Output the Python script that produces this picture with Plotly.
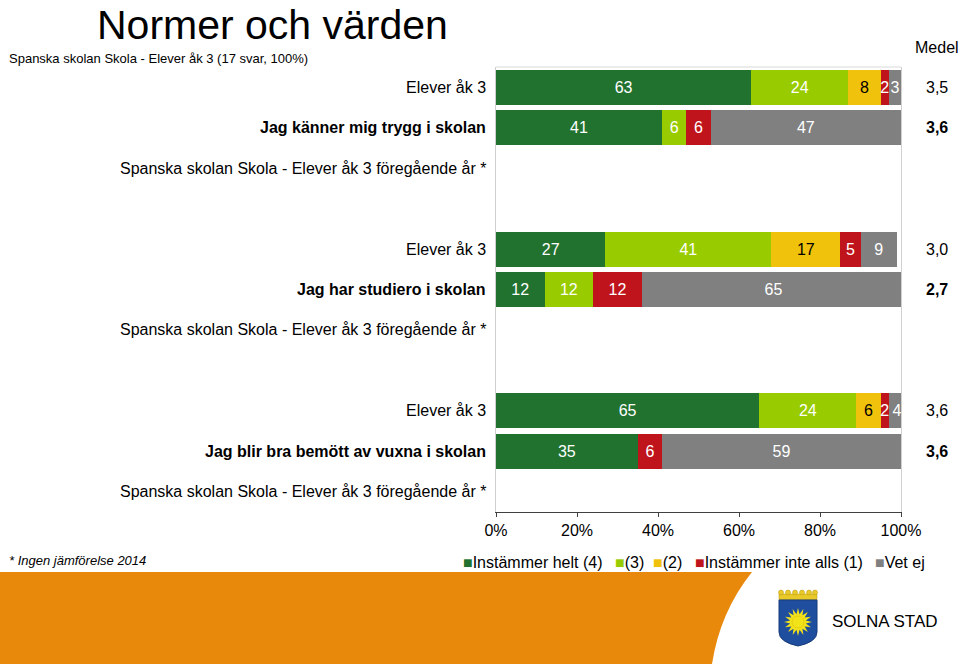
import math
import plotly.graph_objects as go

# ---- data ----
row_labels = [
    "Elever åk 3",
    "Jag känner mig trygg i skolan",
    "Spanska skolan Skola - Elever åk 3 föregående år *",
    "",
    "Elever åk 3",
    "Jag har studiero i skolan",
    "Spanska skolan Skola - Elever åk 3 föregående år *",
    "",
    "Elever åk 3",
    "Jag blir bra bemött av vuxna i skolan",
    "Spanska skolan Skola - Elever åk 3 föregående år *",
]
bold_rows = [1, 5, 9]
series_names = ["Instämmer helt (4)", "(3)", "(2)", "Instämmer inte alls (1)", "Vet ej"]
helt = [63, 41, None, None, 27, 12, None, None, 65, 35, None]
tre = [24, 6, None, None, 41, 12, None, None, 24, 0, None]
tva = [8, 0, None, None, 17, 0, None, None, 6, 0, None]
inte_alls = [2, 6, None, None, 5, 12, None, None, 2, 6, None]
vet_ej = [3, 47, None, None, 9, 65, None, None, 4, 59, None]
medel = ["3,5", "3,6", "", "", "3,0", "2,7", "", "", "3,6", "3,6", ""]
x_ticks = [0, 20, 40, 60, 80, 100]
x_ticktext = ["0%", "20%", "40%", "60%", "80%", "100%"]

colors = ["#22722F", "#99CC00", "#F0C20C", "#C0141C", "#808080"]
text_colors = ["white", "white", "black", "white", "white"]

W, H = 959, 664
L, R, T, B = 496, 901, 67, 512
FONT = "Liberation Sans, Arial, sans-serif"


def X(px):
    return (px - L) / (R - L)


def Y(py):
    return (B - py) / (B - T)


ypos = list(range(len(row_labels)))
fig = go.Figure()
for name, vals, col, tcol in zip(series_names, [helt, tre, tva, inte_alls, vet_ej], colors, text_colors):
    fig.add_trace(go.Bar(
        y=ypos, x=vals, name=name, orientation="h",
        marker=dict(color=col, line=dict(width=0)),
        text=["" if (v is None or v == 0) else str(v) for v in vals],
        textposition="inside", insidetextanchor="middle", constraintext="none",
        textfont=dict(color=tcol, size=16, family=FONT),
        showlegend=False, hoverinfo="skip",
    ))

fig.update_layout(
    width=W, height=H, barmode="stack", bargap=0.135,
    margin=dict(l=L, r=W - R, t=T, b=H - B, pad=0),
    paper_bgcolor="white", plot_bgcolor="white",
    font=dict(family=FONT, color="black", size=16),
    xaxis=dict(range=[0, 100], tickvals=x_ticks, ticktext=x_ticktext, showgrid=False,
               zeroline=False, showline=True, linecolor="#404040", linewidth=1,
               ticks="outside", ticklen=4, tickcolor="#404040", tickfont=dict(size=16)),
    yaxis=dict(range=[10.5, -0.5], showticklabels=False, showgrid=False, zeroline=False,
               showline=True, linecolor="#d0d0d0", mirror=True, ticks=""),
)

shapes = []
# top border of plot area
shapes.append(dict(type="line", xref="paper", yref="paper", x0=0, x1=1, y0=1, y1=1,
                   line=dict(color="#d9d9d9", width=1)))

# orange footer band
p = "M {},{} L {},{} Q {},{} {},{} L {},{} Z".format(
    X(0), Y(572), X(752), Y(572), X(720), Y(612), X(712), Y(664), X(0), Y(664))
shapes.append(dict(type="path", xref="paper", yref="paper", path=p,
                   fillcolor="#E8890C", line=dict(width=0), layer="above"))

# logo: crown
shapes.append(dict(type="rect", xref="paper", yref="paper", x0=X(779), x1=X(817), y0=Y(600), y1=Y(594),
                   fillcolor="#E9C829", line=dict(color="#B59A10", width=0.5)))
for cx in [781, 788, 795, 802, 809, 815]:
    shapes.append(dict(type="circle", xref="paper", yref="paper", x0=X(cx - 2.5), x1=X(cx + 2.5),
                       y0=Y(595), y1=Y(590), fillcolor="#E9C829", line=dict(color="#B59A10", width=0.5)))
# shield
sp = "M {},{} L {},{} L {},{} Q {},{} {},{} Q {},{} {},{} Z".format(
    X(779), Y(600), X(817), Y(600), X(817), Y(632), X(817), Y(642), X(798), Y(646), X(779), Y(642), X(779), Y(632))
shapes.append(dict(type="path", xref="paper", yref="paper", path=sp,
                   fillcolor="#1F4E9E", line=dict(color="#163a78", width=1)))
# sun
pts = []
for k in range(32):
    ang = math.pi * 2 * k / 32
    rr = 14 if k % 2 == 0 else 8
    pts.append((798 + rr * math.cos(ang), 622 + rr * math.sin(ang)))
sunp = "M " + " L ".join("{},{}".format(X(a), Y(b)) for a, b in pts) + " Z"
shapes.append(dict(type="path", xref="paper", yref="paper", path=sunp,
                   fillcolor="#F2E21A", line=dict(width=0)))
shapes.append(dict(type="circle", xref="paper", yref="paper", x0=X(792), x1=X(804), y0=Y(628), y1=Y(616),
                   fillcolor="#F2E21A", line=dict(color="#D8B80A", width=0.5)))

annotations = []
# title & subtitle
annotations.append(dict(text="Normer och värden", xref="paper", yref="paper", x=X(95), y=Y(0),
                        xanchor="left", yanchor="top", showarrow=False, font=dict(size=41, family=FONT)))
annotations.append(dict(text="Spanska skolan Skola - Elever åk 3 (17 svar, 100%)", xref="paper", yref="paper",
                        x=X(7), y=Y(59), xanchor="left", yanchor="middle", showarrow=False,
                        font=dict(size=13, family=FONT)))
annotations.append(dict(text="Medel", xref="paper", yref="paper", x=X(937), y=Y(48),
                        xanchor="center", yanchor="middle", showarrow=False, font=dict(size=16, family=FONT)))

for i, (lab, m) in enumerate(zip(row_labels, medel)):
    b = i in bold_rows
    if lab:
        annotations.append(dict(text=("<b>%s</b>" % lab) if b else lab, xref="paper", yref="y",
                                x=X(488), y=i, xanchor="right", yanchor="middle", showarrow=False,
                                font=dict(size=16, family=FONT)))
    if m:
        annotations.append(dict(text=("<b>%s</b>" % m) if b else m, xref="paper", yref="y",
                                x=X(937), y=i, xanchor="center", yanchor="middle", showarrow=False,
                                font=dict(size=16, family=FONT)))

# footnote
annotations.append(dict(text="<i>* Ingen jämförelse 2014</i>", xref="paper", yref="paper", x=X(7), y=Y(560),
                        xanchor="left", yanchor="middle", showarrow=False, font=dict(size=13, family=FONT)))

# legend (one text per entry)
legend_x = [461, 613, 651, 693, 873]
for c, n, lx in zip(colors, series_names, legend_x):
    annotations.append(dict(text='<span style="color:%s">■</span>%s' % (c, n), xref="paper", yref="paper",
                            x=X(lx), y=Y(562), xanchor="left", yanchor="middle", showarrow=False,
                            font=dict(size=16, family=FONT)))

# logo text
annotations.append(dict(text="SOLNA STAD", xref="paper", yref="paper", x=X(830), y=Y(621),
                        xanchor="left", yanchor="middle", showarrow=False, font=dict(size=17, family=FONT)))

fig.update_layout(shapes=shapes, annotations=annotations)
fig.write_html("out.html", config={"displayModeBar": False},
               post_script="document.body.style.margin='0px';document.body.style.overflow='hidden';")
